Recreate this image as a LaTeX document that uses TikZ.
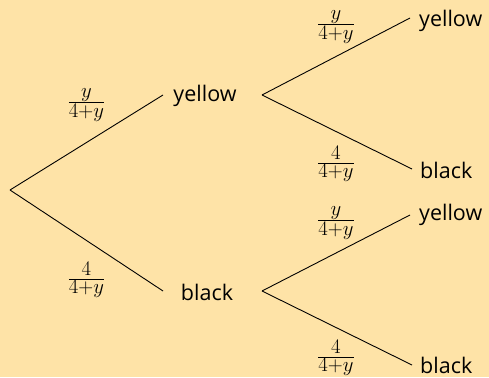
\documentclass[tikz,border=0pt]{standalone}
\usepackage{fontspec}
\setmainfont{Open Sans}
\definecolor{bg}{RGB}{254,227,167}
\begin{document}
\begin{tikzpicture}[x=1pt,y=-1pt,
  word/.style={inner sep=0pt,font=\fontsize{21.5}{25}\selectfont},
  prob/.style={inner sep=0pt,font=\fontsize{28.5}{33}\selectfont},
  branch/.style={line width=0.9pt}]
\fill[bg] (0,0) rectangle (489,377);
\useasboundingbox (0,0) rectangle (489,377);
\coordinate (root) at (10,190);
\node[word] (y1) at (205,96) {yellow};
\node[word] (b1) at (207,292) {black};
\node[word,anchor=west] (yy) at (419,21) {yellow};
\node[word,anchor=west] (yb) at (420,170) {black};
\node[word,anchor=west] (by) at (419,215) {yellow};
\node[word,anchor=west] (bb) at (420,365) {black};
\coordinate (y1in) at (163,95);
\coordinate (b1in) at (163,291);
\coordinate (y1out) at (262,95);
\coordinate (b1out) at (262,291);
\coordinate (yyin) at (410,18);
\coordinate (ybin) at (412,169);
\coordinate (byin) at (410,215);
\coordinate (bbin) at (412,365);
\draw[branch] (root) -- (y1in);
\draw[branch] (root) -- (b1in);
\draw[branch] (y1out) -- (yyin);
\draw[branch] (y1out) -- (ybin);
\draw[branch] (b1out) -- (byin);
\draw[branch] (b1out) -- (bbin);
\node[prob] (p1) at (86.5,105) {$\frac{y}{4+y}$};
\node[prob] (p2) at (86.5,280) {$\frac{4}{4+y}$};
\node[prob] (p3) at (336,27) {$\frac{y}{4+y}$};
\node[prob] (p4) at (336,164) {$\frac{4}{4+y}$};
\node[prob] (p5) at (336,223) {$\frac{y}{4+y}$};
\node[prob] (p6) at (336,358) {$\frac{4}{4+y}$};
\end{tikzpicture}
\end{document}
